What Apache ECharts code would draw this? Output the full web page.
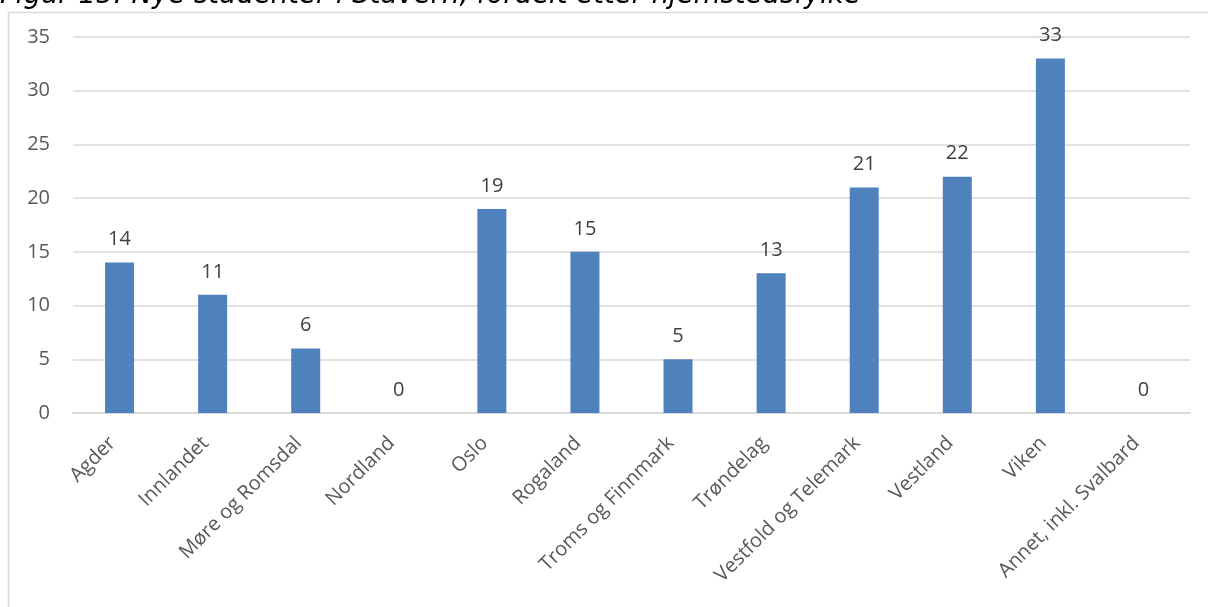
<!DOCTYPE html>
<html><head><meta charset="utf-8">
<script src="https://cdn.jsdelivr.net/npm/echarts@6/dist/echarts.min.js"></script>
<style>html,body{margin:0;padding:0;background:#fff}#c{width:1208px;height:607px}</style>
</head><body><div id="c"></div>
<script>
const titleText = 'Figur 15: Nye studenter i Stavern, fordelt etter hjemstedsfylke';
const categories = ['Agder','Innlandet','Møre og Romsdal','Nordland','Oslo','Rogaland','Troms og Finnmark','Trøndelag','Vestfold og Telemark','Vestland','Viken','Annet, inkl. Svalbard'];
const values = [14,11,6,0,19,15,5,13,21,22,33,0];
const yTicks = {min:0, max:35, interval:5};

const chart = echarts.init(document.getElementById('c'));
chart.setOption({
  animation:false,
  textStyle:{fontFamily:'Open Sans'},
  graphic:[
    {type:'rect', shape:{x:8.5,y:12.5,width:1300,height:700}, style:{fill:'none',stroke:'#d9d9d9',lineWidth:1.5}, silent:true},
    {type:'text', x:0, y:9, style:{text:titleText, fontFamily:'DejaVu Sans', fontStyle:'italic', fontSize:27.5, fill:'#000', verticalAlign:'bottom'}}
  ],
  grid:{left:73,right:18,top:37,bottom:194},
  xAxis:{type:'category', data:categories,
    axisLine:{lineStyle:{color:'#d9d9d9',width:2}}, axisTick:{show:false},
    axisLabel:{rotate:45, interval:0, color:'#595959', fontSize:20, margin:20, padding:[0,10,0,0]}},
  yAxis:{type:'value', min:yTicks.min, max:yTicks.max, interval:yTicks.interval,
    axisLine:{show:false}, axisTick:{show:false},
    splitLine:{lineStyle:{color:'#d9d9d9',width:1.5}},
    axisLabel:{color:'#595959', fontSize:20, margin:23}},
  series:[{type:'bar', data:values, barWidth:29, itemStyle:{color:'#4f81bd'},
    label:{show:true, position:'top', distance:13, color:'#404040', fontSize:20}}]
});
</script></body></html>
